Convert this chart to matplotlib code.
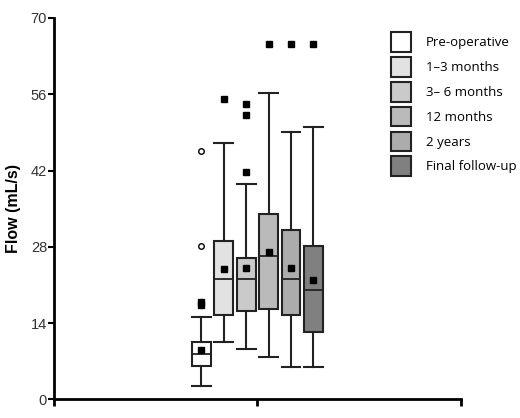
import matplotlib
matplotlib.use("Agg")
import matplotlib.pyplot as plt
from matplotlib.patches import Patch

groups = ["Pre-operative", "1\u20133 months", "3\u2013 6 months", "12 months", "2 years", "Final follow-up"]
q1 = [6.2, 15.4, 16.3, 16.5, 15.4, 12.3]
med = [8.4, 22.0, 22.0, 26.3, 22.0, 20.1]
q3 = [10.5, 29.1, 26.0, 34.1, 31.0, 28.1]
wlo = [2.4, 10.5, 9.2, 7.8, 6.0, 6.0]
whi = [15.1, 47.0, 39.5, 56.2, 49.0, 50.0]
means = [9.1, 23.9, 24.1, 27.1, 24.1, 21.9]
sq_out = [[17.3, 17.8], [55.2], [54.2, 52.1, 41.7], [65.2], [65.2], [65.2]]
circ_out = [[45.6, 28.2], [], [], [], [], []]
colors = ["#ffffff", "#e2e2e2", "#cacaca", "#bababa", "#acacac", "#808080"]

plt.rcParams['font.family'] = ['Liberation Sans', 'DejaVu Sans']
fig = plt.figure(figsize=(5.2, 4.18), dpi=100)
ax = fig.add_axes([0.1038, 0.0447, 0.7822, 0.9123])

positions = [0.725 + 0.11 * i for i in range(len(groups))]
stats = []
for i in range(len(groups)):
    stats.append(dict(med=med[i], q1=q1[i], q3=q3[i], whislo=wlo[i], whishi=whi[i],
                      mean=means[i], fliers=[], label=groups[i]))

bp = ax.bxp(stats, positions=positions, widths=0.092, capwidths=0.092, patch_artist=True,
            showmeans=True, showfliers=False,
            boxprops=dict(linewidth=1.5, edgecolor="#222222"),
            medianprops=dict(color="#222222", linewidth=1.3),
            whiskerprops=dict(color="#222222", linewidth=1.5),
            capprops=dict(color="#222222", linewidth=1.5),
            meanprops=dict(marker="s", markerfacecolor="black", markeredgecolor="black", markersize=4.5))
for patch, c in zip(bp['boxes'], colors):
    patch.set_facecolor(c)

for i, p in enumerate(positions):
    if sq_out[i]:
        ax.plot([p] * len(sq_out[i]), sq_out[i], linestyle="none", marker="s",
                color="black", markersize=4.5)
    if circ_out[i]:
        ax.plot([p] * len(circ_out[i]), circ_out[i], linestyle="none", marker="o",
                markerfacecolor="white", markeredgecolor="black", markersize=4, markeredgewidth=1)

ax.set_xlim(0, 2)
ax.set_ylim(0, 70)
ax.set_yticks([0, 14, 28, 42, 56, 70])
ax.set_xticks([0, 1, 2])
ax.set_xticklabels([])
ax.spines['top'].set_visible(False)
ax.spines['right'].set_visible(False)
ax.spines['left'].set_linewidth(2)
ax.spines['bottom'].set_linewidth(2)
ax.tick_params(axis='y', length=4, width=1.5, labelsize=10.5, pad=1, labelcolor="#333333")
ax.tick_params(axis='x', length=5, width=2)
ax.set_ylabel("Flow (mL/s)", fontsize=11.5, fontweight="bold", labelpad=7)

handles = [Patch(facecolor=c, edgecolor="#222222", linewidth=1.5) for c in colors]
leg = ax.legend(handles, groups, loc="upper left", bbox_to_anchor=(0.8286, 0.962), frameon=False,
                prop=dict(family=['Open Sans', 'DejaVu Sans'], size=9.5),
                handlelength=1.52, handleheight=1.9, labelspacing=0.4,
                handletextpad=1.15, borderaxespad=0, borderpad=0)

fig.savefig("out.png", dpi=100)
